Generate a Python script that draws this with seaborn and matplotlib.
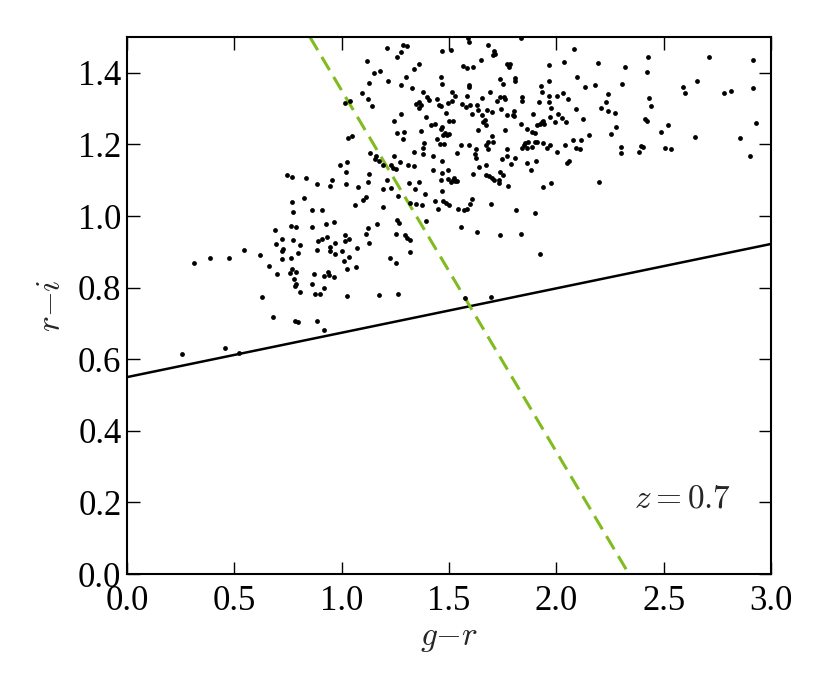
import matplotlib
matplotlib.use('Agg')
import matplotlib.pyplot as plt
import seaborn as sns

# galaxy colours (g-r, r-i)
g_r = [
    1.015, 1.039, 1.031, 1.049,
    1.212, 1.284, 1.304, 1.256, 1.275, 1.468, 1.509, 1.590, 1.594, 1.680,
    1.708, 1.703, 1.715, 1.833, 1.116, 1.149, 1.177, 1.338, 1.362, 1.566,
    1.582, 1.613, 1.649, 1.770, 1.778, 1.785, 1.964, 1.127, 1.216, 1.276,
    1.299, 1.327, 1.462, 1.467, 1.593, 1.594, 1.736, 1.753, 1.807, 1.809,
    1.928, 1.934, 1.967, 1.093, 1.122, 1.140, 1.377, 1.396, 1.408, 1.442,
    1.455, 1.464, 1.512, 1.526, 1.495, 1.515, 1.560, 1.585, 1.579, 1.598,
    1.632, 1.653, 1.677, 1.691, 1.700, 1.722, 1.737, 1.742, 1.754, 1.762,
    1.838, 1.840, 1.919, 1.964, 2.003, 1.965, 1.973, 2.009, 1.346, 1.362,
    1.368, 1.362, 1.275, 1.244, 1.393, 1.414, 1.433, 1.466, 1.462, 1.486,
    1.500, 1.520, 1.605, 1.636, 1.653, 1.657, 1.666, 1.672, 1.770, 1.796,
    1.804, 1.801, 1.889, 1.924, 1.931, 1.942, 1.938, 1.908, 1.970, 1.993,
    1.257, 1.290, 1.285, 1.371, 1.481, 1.492, 1.500, 1.473, 1.445, 1.633,
    1.700, 1.706, 1.680, 1.672, 1.761, 1.835, 1.861, 1.885, 1.900, 1.869,
    1.849, 1.854, 1.900, 1.908, 1.936, 1.972, 1.380, 1.385, 1.458, 1.476,
    1.557, 1.594, 1.624, 1.681, 1.768, 1.838, 1.861, 1.885, 1.955,
    2.082, 2.037, 2.192, 2.320, 2.425, 2.424, 2.709, 2.914, 2.096, 2.135,
    2.180, 2.307, 2.242, 2.233, 2.206, 2.240, 2.273, 2.032, 2.052, 2.090,
    2.433, 2.442, 2.591, 2.599, 2.653, 2.779, 2.815, 2.916, 2.025, 2.043,
    2.124, 2.411, 2.422, 2.279, 2.253, 2.153, 2.115, 2.076, 2.039, 2.299,
    2.394, 2.402, 2.489, 2.518, 2.647, 2.857, 2.930, 2.090, 2.110, 2.506,
    2.532,
    2.051, 2.060, 2.197, 2.302, 2.383, 2.900,
    0.991, 1.026, 1.018, 0.745, 0.770, 0.834, 0.887, 0.946, 0.953, 1.022,
    1.074, 0.767, 0.826, 0.775, 0.862, 0.908, 1.063, 0.688, 0.764, 0.789,
    0.862, 0.925, 0.966, 0.722, 0.772, 0.696, 0.728, 0.722, 0.806, 0.888,
    0.908, 0.930, 0.969, 1.014, 1.014, 1.032, 0.944, 0.946, 0.885, 0.970,
    1.000, 1.034, 1.073, 0.546, 0.621, 0.388, 0.474, 0.722, 0.762, 0.796,
    1.132, 1.158, 1.157, 1.175, 1.194, 1.228, 1.240, 1.251, 1.242, 1.270,
    1.335, 1.379, 1.424, 1.535, 1.622, 1.625, 1.768, 1.745, 1.809, 1.789,
    1.865, 1.905, 1.880, 2.001, 1.310, 1.337, 1.469, 1.424, 1.469, 1.494,
    1.461, 1.495, 1.508, 1.522, 1.528, 1.537, 1.517, 1.613, 1.638, 1.672,
    1.672, 1.685, 1.702, 1.709, 1.736, 1.753, 1.734, 1.731, 1.773, 1.938,
    1.975, 1.126, 1.122, 1.213, 1.194, 1.230, 1.315, 1.358, 1.343, 1.388,
    1.262, 1.467, 1.099, 1.115, 1.318, 1.346, 1.374, 1.435, 1.447, 1.473,
    1.486, 1.500, 1.542, 1.568, 1.582, 1.598, 1.605, 1.695, 1.812, 1.900,
    1.194, 1.256, 1.265, 1.391, 1.166, 1.122, 1.115, 1.127, 1.254, 1.295,
    1.304, 1.320, 1.554, 1.629, 1.739, 1.837, 1.320, 1.225, 1.924,
    0.312, 0.661, 0.699, 0.758, 0.770, 0.789, 0.776, 0.789, 0.781, 0.806,
    0.860, 0.873, 0.919, 0.938, 0.939, 0.964, 0.876, 0.897, 0.916, 1.011,
    1.023, 1.067, 1.025, 0.630, 0.682, 0.782, 0.798, 0.886, 0.916, 0.256,
    0.456, 0.522,
    1.251, 1.175, 1.264, 1.576, 1.695,
]
r_i = [
    1.316, 1.320, 1.217, 1.224,
    1.469, 1.477, 1.476, 1.444, 1.458, 1.460, 1.465, 1.496, 1.487, 1.477,
    1.462, 1.451, 1.453, 1.498, 1.432, 1.400, 1.406, 1.411, 1.424, 1.420,
    1.414, 1.416, 1.437, 1.426, 1.417, 1.425, 1.422, 1.372, 1.377, 1.367,
    1.388, 1.358, 1.388, 1.370, 1.367, 1.361, 1.382, 1.370, 1.385, 1.376,
    1.362, 1.347, 1.378, 1.344, 1.326, 1.307, 1.347, 1.332, 1.324, 1.327,
    1.310, 1.306, 1.347, 1.336, 1.317, 1.321, 1.313, 1.336, 1.305, 1.309,
    1.310, 1.330, 1.296, 1.347, 1.290, 1.322, 1.333, 1.300, 1.332, 1.328,
    1.332, 1.320, 1.319, 1.335, 1.334, 1.319, 1.301, 1.286, 1.313, 1.318,
    1.309, 1.301, 1.286, 1.266, 1.276, 1.254, 1.256, 1.250, 1.243, 1.287,
    1.265, 1.265, 1.286, 1.295, 1.281, 1.263, 1.267, 1.255, 1.282, 1.281,
    1.292, 1.279, 1.286, 1.258, 1.263, 1.257, 1.265, 1.254, 1.276, 1.262,
    1.233, 1.234, 1.214, 1.238, 1.231, 1.227, 1.230, 1.225, 1.215, 1.241,
    1.223, 1.207, 1.207, 1.197, 1.239, 1.257, 1.242, 1.235, 1.232, 1.207,
    1.198, 1.204, 1.207, 1.207, 1.203, 1.197, 1.190, 1.205, 1.202, 1.200,
    1.199, 1.197, 1.186, 1.186, 1.187, 1.191, 1.191, 1.193, 1.190,
    1.466, 1.431, 1.427, 1.417, 1.443, 1.402, 1.443, 1.437, 1.387, 1.359,
    1.367, 1.369, 1.340, 1.318, 1.301, 1.292, 1.288, 1.345, 1.328, 1.300,
    1.329, 1.306, 1.360, 1.343, 1.378, 1.343, 1.349, 1.358, 1.273, 1.263,
    1.271, 1.272, 1.265, 1.249, 1.229, 1.226, 1.213, 1.211, 1.199, 1.194,
    1.195, 1.192, 1.234, 1.253, 1.221, 1.217, 1.261, 1.190, 1.187, 1.190,
    1.188,
    1.148, 1.153, 1.094, 1.175, 1.179, 1.169,
    1.142, 1.152, 1.123, 1.114, 1.108, 1.107, 1.090, 1.085, 1.101, 1.089,
    1.080, 1.039, 1.050, 1.012, 1.018, 1.018, 1.032, 0.961, 0.973, 0.969,
    0.970, 0.978, 0.984, 0.937, 0.934, 0.922, 0.908, 0.903, 0.920, 0.931,
    0.937, 0.940, 0.926, 0.946, 0.931, 0.935, 0.914, 0.901, 0.905, 0.893,
    0.901, 0.885, 0.910, 0.905, 0.891, 0.884, 0.884, 0.880, 0.882, 0.897,
    1.175, 1.169, 1.159, 1.153, 1.142, 1.142, 1.135, 1.131, 1.169, 1.151,
    1.178, 1.173, 1.168, 1.176, 1.172, 1.162, 1.168, 1.159, 1.161, 1.144,
    1.147, 1.155, 1.129, 1.180, 1.142, 1.141, 1.154, 1.128, 1.120, 1.129,
    1.101, 1.104, 1.095, 1.106, 1.097, 1.097, 1.101, 1.116, 1.137, 1.142,
    1.114, 1.111, 1.105, 1.101, 1.122, 1.114, 1.100, 1.093, 1.083, 1.081,
    1.092, 1.117, 1.096, 1.101, 1.075, 1.077, 1.091, 1.096, 1.076, 1.062,
    1.055, 1.069, 1.044, 1.053, 1.036, 1.034, 1.030, 1.041, 1.021, 1.041,
    1.036, 1.032, 1.019, 1.016, 1.020, 1.033, 1.047, 1.034, 1.018, 1.008,
    1.024, 0.990, 0.981, 0.985, 0.979, 0.967, 0.950, 0.926, 0.950, 0.946,
    0.938, 0.933, 0.968, 0.954, 0.946, 0.950, 0.900, 0.882, 0.895,
    0.868, 0.861, 0.837, 0.840, 0.853, 0.843, 0.825, 0.811, 0.804, 0.788,
    0.811, 0.837, 0.832, 0.844, 0.835, 0.830, 0.781, 0.783, 0.800, 0.873,
    0.852, 0.857, 0.776, 0.773, 0.717, 0.708, 0.704, 0.707, 0.683, 0.614,
    0.632, 0.618,
    0.868, 0.778, 0.782, 0.772, 0.775,
]

# colour cuts
cut_g = [0.0, 3.0]
cut_r = [0.550, 0.922]
bound_g = [0.852, 2.338]
bound_r = [1.5, 0.0]

x_ticks = [0.0, 0.5, 1.0, 1.5, 2.0, 2.5, 3.0]
y_ticks = [0.0, 0.2, 0.4, 0.6, 0.8, 1.0, 1.2, 1.4]

sns.set_style('ticks')
plt.rcParams['font.family'] = ['Liberation Serif', 'DejaVu Serif']
plt.rcParams['mathtext.fontset'] = 'cm'

fig = plt.figure(figsize=(8.3, 6.92), dpi=100)
ax = fig.add_axes([0.153, 0.1705, 0.776, 0.776])

sns.scatterplot(x=g_r, y=r_i, color='black', s=12, linewidth=0, ax=ax, zorder=3)
sns.lineplot(x=cut_g, y=cut_r, color='black', lw=1.8, ax=ax)
sns.lineplot(x=bound_g, y=bound_r, color='#80bb20', lw=2.2,
             linestyle=(0, (5, 2.6)), ax=ax)

ax.set_xlim(0, 3)
ax.set_ylim(0, 1.5)
ax.set_xticks(x_ticks)
ax.set_yticks(y_ticks)
ax.set_xticklabels(['%.1f' % t for t in x_ticks])
ax.set_yticklabels(['%.1f' % t for t in y_ticks])
ax.tick_params(direction='in', top=True, right=True, length=9, width=1,
               labelsize=25, colors='black')
ax.tick_params(axis='y', pad=4)
ax.tick_params(axis='x', pad=8)
for sp in ax.spines.values():
    sp.set_linewidth(1.5)
    sp.set_color('black')

ax.set_xlabel('$g{-}r$', fontsize=24, labelpad=4)
ax.set_ylabel('$r{-}i$', fontsize=24, labelpad=8)
ax.text(2.36, 0.21, '$z{=}0.7$', fontsize=24, ha='left', va='center')

fig.savefig('out.png', dpi=100)
